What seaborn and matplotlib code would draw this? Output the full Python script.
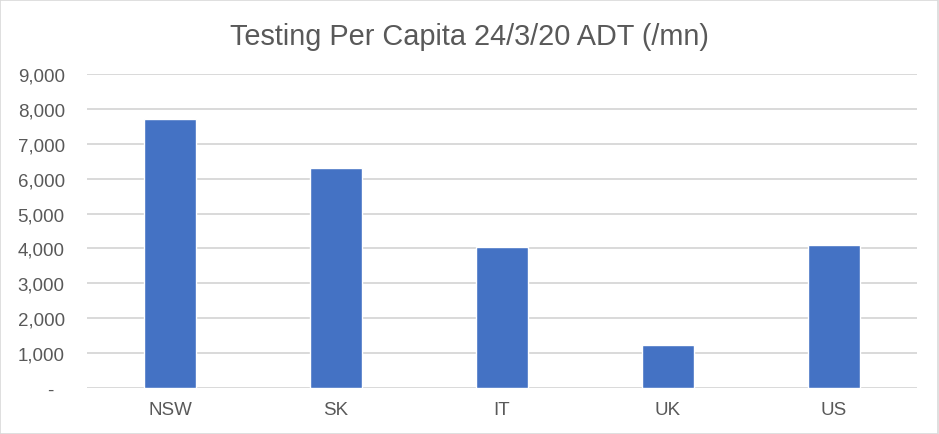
import matplotlib
matplotlib.use("Agg")
import matplotlib.pyplot as plt
import seaborn as sns
import pandas as pd
from matplotlib.ticker import FuncFormatter, MultipleLocator
from matplotlib.patches import Rectangle

categories = ["NSW", "SK", "IT", "UK", "US"]
values = [7700, 6300, 4040, 1240, 4100]
title = "Testing Per Capita 24/3/20 ADT (/mn)"

sns.set_theme(style="white")
plt.rcParams["font.family"] = ["Liberation Sans", "DejaVu Sans"]

df = pd.DataFrame({"cat": categories, "val": values})

fig = plt.figure(figsize=(9.39, 4.35), dpi=100)
ax = fig.add_axes([87/939, 1-389.3/435, (917-87)/939, (389.3-74.7)/435])

sns.barplot(data=df, x="cat", y="val", color="#4472C4", width=0.313,
            saturation=1, ax=ax, zorder=3)

ax.set_ylim(0, 9000)
ax.yaxis.set_major_locator(MultipleLocator(1000))
ax.yaxis.set_major_formatter(FuncFormatter(lambda v, p: "-  " if v == 0 else f"{v:,.0f}"))
ax.grid(axis="y", color="#D9D9D9", linewidth=1.4, zorder=0)
ax.set_axisbelow(True)
for s in ax.spines.values():
    s.set_visible(False)
ax.set_xlabel("")
ax.set_ylabel("")
ax.tick_params(axis="y", length=0, pad=16, labelsize=13.5, labelcolor="#595959")
ax.tick_params(axis="x", length=0, pad=9, labelsize=13.5, labelcolor="#595959")

fig.text(0.5, 1-37/435, title, ha="center", va="center", fontsize=20.8, color="#595959")

fig.patches.append(Rectangle((0.0005, 0.001), 0.998, 0.997, transform=fig.transFigure,
                             fill=False, edgecolor="#D9D9D9", linewidth=1.2))

fig.savefig("out.png", dpi=100, facecolor="white")
